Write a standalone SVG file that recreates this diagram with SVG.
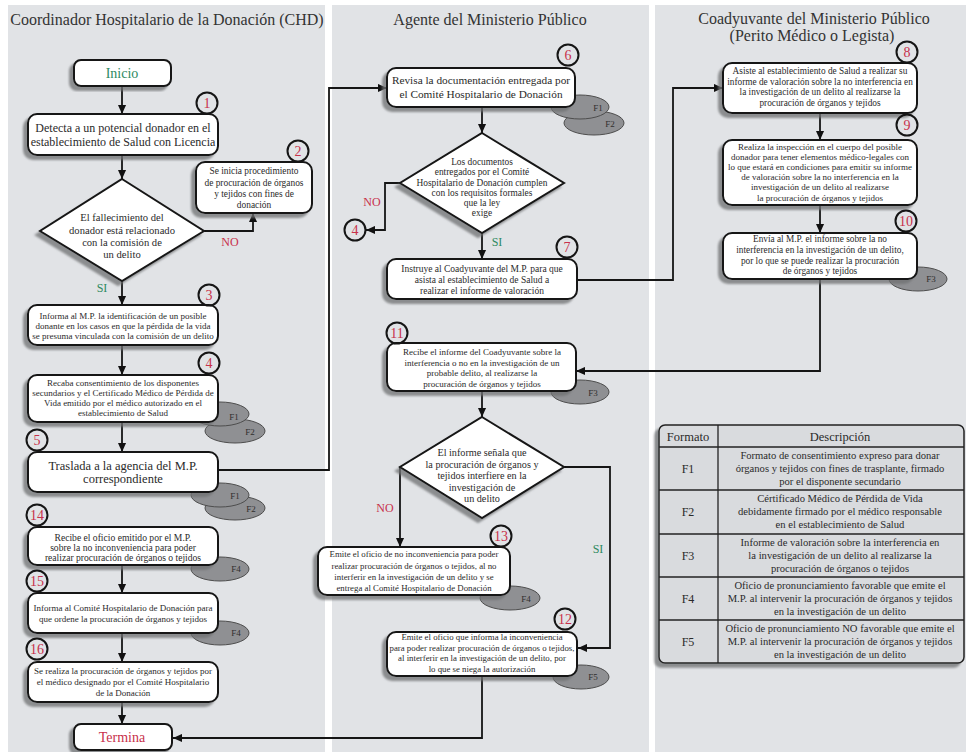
<svg xmlns="http://www.w3.org/2000/svg" width="966" height="752" viewBox="0 0 966 752">
<defs>
<filter id="sh" x="-10%" y="-10%" width="120%" height="130%">
<feDropShadow dx="-4" dy="4" stdDeviation="1.2" flood-color="#6e6f72" flood-opacity="0.75"/>
</filter>
<marker id="arr" viewBox="0 0 10 10" refX="10" refY="5" markerWidth="9" markerHeight="9" markerUnits="userSpaceOnUse" orient="auto">
<path d="M0,0.5 L10,5 L0,9.5 z" fill="#111"/>
</marker>
<style>
.lane{fill:#e1e3e6}
.box{fill:#fff;stroke:#151515;stroke-width:2;filter:url(#sh)}
.t{font-family:"Liberation Serif","Times New Roman",serif;fill:#2a2a2a;text-anchor:middle}
.title{font-size:16px;fill:#333}
.badge{fill:none;stroke:#151515;stroke-width:2}
.num{font-family:"Liberation Serif",serif;font-size:14px;fill:#c8314b;text-anchor:middle}
.fe{fill:#8f9093;stroke:#4d4d4d;stroke-width:1}
.fl{font-family:"Liberation Serif",serif;font-size:9px;fill:#2f2f2f;text-anchor:middle}
.conn{fill:none;stroke:#151515;stroke-width:1.8;marker-end:url(#arr)}
.no{font-family:"Liberation Serif",serif;font-size:12px;fill:#c8314b;text-anchor:middle}
.si{font-family:"Liberation Serif",serif;font-size:12px;fill:#2e8a62;text-anchor:middle}
.tb{font-family:"Liberation Serif",serif;fill:#2a2a2a;text-anchor:middle}
</style>
</defs>
<rect width="966" height="752" fill="#fff"/>
<g id="lanes">
<rect class="lane" x="8" y="5" width="317" height="747"/>
<rect class="lane" x="332" y="5" width="317" height="747"/>
<rect class="lane" x="655" y="5" width="311" height="747"/>
<text class="t title" x="167" y="25">Coordinador Hospitalario de la Donación (CHD)</text>
<text class="t title" x="490" y="25">Agente del Ministerio Público</text>
<text class="t title" x="814" y="24">Coadyuvante del Ministerio Público</text>
<text class="t title" x="812" y="41">(Perito Médico o Legista)</text>
</g>

<g id="connectors">
<path class="conn" d="M122,86 V114"/>
<path class="conn" d="M122,155 V179"/>
<path class="conn" d="M204,231 H253 V213"/>
<path class="conn" d="M122,281 V305"/>
<path class="conn" d="M122,345 V375"/>
<path class="conn" d="M122,422 V452"/>
<path class="conn" d="M218,470 H329 V88 H387"/>
<path class="conn" d="M482,107 V133"/>
<path class="conn" d="M400,183 H385 V230 H366"/>
<path class="conn" d="M482,233 V259"/>
<path class="conn" d="M577,280 H673 V88 H723"/>
<path class="conn" d="M820,113 V140"/>
<path class="conn" d="M820,205 V233"/>
<path class="conn" d="M820,279 V371 H576"/>
<path class="conn" d="M482,391 V417"/>
<path class="conn" d="M400,467 V547"/>
<path class="conn" d="M564,467 H610 V648 H578"/>
<path class="conn" d="M482,676 V738 H173"/>
<path class="conn" d="M122,565 V593"/>
<path class="conn" d="M122,633 V662"/>
<path class="conn" d="M122,702 V724"/>
<text class="no" x="230" y="246">NO</text>
<text class="si" x="102" y="292">SI</text>
<text class="no" x="372" y="206">NO</text>
<text class="si" x="497" y="246">SI</text>
<text class="no" x="385" y="512">NO</text>
<text class="si" x="598" y="553">SI</text>
</g>

<g id="inicio">
<rect class="box" x="74" y="60" width="97" height="26" rx="7"/>
<text class="t" x="122" y="78" font-size="14" fill="#2e8a62" style="fill:#2e8a62">Inicio</text>
</g>

<g id="n1">
<rect class="box" x="28" y="114" width="190" height="41" rx="9"/>
<text class="t" x="123" y="132" font-size="12">Detecta a un potencial donador en el</text>
<text class="t" x="123" y="146" font-size="12">establecimiento de Salud con Licencia</text>
<circle class="badge" cx="207" cy="103" r="10.5"/>
<text class="num" x="207" y="108">1</text>
</g>

<g id="n2">
<rect class="box" x="196" y="162" width="116" height="51" rx="9"/>
<g class="t" font-size="9.4">
<text x="254" y="174">Se inicia procedimiento</text>
<text x="254" y="186">de procuración de órganos</text>
<text x="254" y="197">y tejidos con fines de</text>
<text x="254" y="208">donación</text>
</g>
<circle class="badge" cx="298" cy="151" r="10.5"/>
<text class="num" x="298" y="156">2</text>
</g>

<g id="d1">
<polygon class="box" points="122,179 204,231 122,281 40,231"/>
<g class="t" font-size="10.6">
<text x="122" y="221">El fallecimiento del</text>
<text x="122" y="234">donador está relacionado</text>
<text x="122" y="246">con la comisión de</text>
<text x="122" y="258">un delito</text>
</g>
</g>

<g id="n3">
<rect class="box" x="28" y="305" width="190" height="40" rx="9"/>
<g class="t" font-size="9">
<text x="123" y="319">Informa al M.P. la identificación de un posible</text>
<text x="123" y="329">donante en los casos en que la pérdida de la vida</text>
<text x="123" y="339">se presuma vinculada con la comisión de un delito</text>
</g>
<circle class="badge" cx="209" cy="295" r="10.5"/>
<text class="num" x="209" y="300">3</text>
</g>

<g id="n4">
<ellipse class="fe" cx="235" cy="431" rx="30" ry="12"/>
<ellipse class="fe" cx="220" cy="414" rx="29" ry="12"/>
<text class="fl" x="234" y="420">F1</text>
<text class="fl" x="250" y="435">F2</text>
<rect class="box" x="28" y="375" width="190" height="47" rx="9"/>
<g class="t" font-size="9">
<text x="123" y="386">Recaba consentimiento de los disponentes</text>
<text x="123" y="396">secundarios y el Certificado Médico de Pérdida de</text>
<text x="123" y="406">Vida emitido por el médico autorizado en el</text>
<text x="123" y="416">establecimiento de Salud</text>
</g>
<circle class="badge" cx="209" cy="363" r="10.5"/>
<text class="num" x="209" y="368">4</text>
</g>

<g id="n5">
<ellipse class="fe" cx="235" cy="508" rx="30" ry="12"/>
<ellipse class="fe" cx="220" cy="495" rx="29" ry="12"/>
<text class="fl" x="235" y="499">F1</text>
<text class="fl" x="251" y="512">F2</text>
<rect class="box" x="28" y="452" width="190" height="40" rx="9"/>
<text class="t" x="123" y="470" font-size="12.5">Traslada a la agencia del M.P.</text>
<text class="t" x="123" y="483" font-size="12.5">correspondiente</text>
<circle class="badge" cx="37" cy="440" r="10.5"/>
<text class="num" x="37" y="445">5</text>
</g>

<g id="n14">
<ellipse class="fe" cx="220" cy="569" rx="29" ry="12"/>
<text class="fl" x="236" y="572">F4</text>
<rect class="box" x="28" y="527" width="190" height="38" rx="9"/>
<g class="t" font-size="9.6">
<text x="123" y="541">Recibe el oficio emitido por el M.P.</text>
<text x="123" y="551">sobre la no inconveniencia para poder</text>
<text x="123" y="561">realizar procuración de órganos o tejidos</text>
</g>
<circle class="badge" cx="37" cy="515" r="10.5"/>
<text class="num" x="37" y="520">14</text>
</g>

<g id="n15">
<ellipse class="fe" cx="220" cy="633" rx="29" ry="12"/>
<text class="fl" x="236" y="636">F4</text>
<rect class="box" x="28" y="593" width="190" height="40" rx="9"/>
<g class="t" font-size="9">
<text x="123" y="611">Informa al Comité Hospitalario de Donación para</text>
<text x="123" y="622">que ordene la procuración de órganos y tejidos</text>
</g>
<circle class="badge" cx="37" cy="581" r="10.5"/>
<text class="num" x="37" y="586">15</text>
</g>

<g id="n16">
<rect class="box" x="28" y="662" width="190" height="40" rx="9"/>
<g class="t" font-size="9">
<text x="123" y="674">Se realiza la procuración de órganos y tejidos por</text>
<text x="123" y="685">el médico designado por el Comité Hospitalario</text>
<text x="123" y="696">de la Donación</text>
</g>
<circle class="badge" cx="37" cy="649" r="10.5"/>
<text class="num" x="37" y="654">16</text>
</g>

<g id="termina">
<rect class="box" x="74" y="724" width="98" height="26" rx="7"/>
<text class="t" x="122" y="742" font-size="14" style="fill:#c8314b">Termina</text>
</g>

<g id="n6">
<ellipse class="fe" cx="594" cy="123" rx="30" ry="12"/>
<ellipse class="fe" cx="580" cy="107" rx="29" ry="12"/>
<text class="fl" x="598" y="111">F1</text>
<text class="fl" x="610" y="127">F2</text>
<rect class="box" x="387" y="68" width="188" height="39" rx="9"/>
<text class="t" x="481" y="84" font-size="11.3">Revisa la documentación entregada por</text>
<text class="t" x="481" y="98" font-size="11.3">el Comité Hospitalario de Donación</text>
<circle class="badge" cx="568" cy="55" r="10.5"/>
<text class="num" x="568" y="60">6</text>
</g>

<g id="d2">
<polygon class="box" points="482,133 564,183 482,233 400,183"/>
<g class="t" font-size="9.4">
<text x="482" y="165">Los documentos</text>
<text x="482" y="175">entregados por el Comité</text>
<text x="482" y="186">Hospitalario de Donación cumplen</text>
<text x="482" y="196">con los requisitos formales</text>
<text x="482" y="206">que la ley</text>
<text x="482" y="216">exige</text>
</g>
</g>

<g id="ref4">
<circle class="badge" cx="355" cy="230" r="10.5"/>
<text class="num" x="355" y="235">4</text>
</g>

<g id="n7">
<rect class="box" x="387" y="259" width="190" height="40" rx="9"/>
<g class="t" font-size="9.5">
<text x="482" y="272">Instruye al Coadyuvante del M.P. para que</text>
<text x="482" y="283">asista al establecimiento de Salud a</text>
<text x="482" y="294">realizar el informe de valoración</text>
</g>
<circle class="badge" cx="567" cy="247" r="10.5"/>
<text class="num" x="567" y="252">7</text>
</g>

<g id="n11">
<ellipse class="fe" cx="580" cy="392" rx="29" ry="12"/>
<text class="fl" x="593" y="396">F3</text>
<rect class="box" x="387" y="343" width="189" height="48" rx="9"/>
<g class="t" font-size="9">
<text x="482" y="355">Recibe el informe del Coadyuvante sobre la</text>
<text x="482" y="366">interferencia o no en la investigación de un</text>
<text x="482" y="376">probable delito, al realizarse la</text>
<text x="482" y="387">procuración de órganos y tejidos</text>
</g>
<circle class="badge" cx="397" cy="333" r="10.5"/>
<text class="num" x="397" y="338">11</text>
</g>

<g id="d3">
<polygon class="box" points="482,417 564,467 482,518 400,467"/>
<g class="t" font-size="10.2">
<text x="482" y="456">El informe señala que</text>
<text x="482" y="468">la procuración de órganos y</text>
<text x="482" y="479">tejidos interfiere en la</text>
<text x="482" y="491">investigación de</text>
<text x="482" y="502">un delito</text>
</g>
</g>

<g id="n13">
<ellipse class="fe" cx="510" cy="598" rx="30" ry="12"/>
<text class="fl" x="526" y="602">F4</text>
<rect class="box" x="318" y="547" width="192" height="48" rx="9"/>
<g class="t" font-size="8.8">
<text x="414" y="557">Emite el oficio de no inconveniencia para poder</text>
<text x="414" y="569">realizar procuración de órganos o tejidos, al no</text>
<text x="414" y="580">interferir en la investigación de un delito y se</text>
<text x="414" y="591">entrega al Comité Hospitalario de Donación</text>
</g>
<circle class="badge" cx="501" cy="536" r="10.5"/>
<text class="num" x="501" y="541">13</text>
</g>

<g id="n12">
<ellipse class="fe" cx="581" cy="677" rx="28" ry="12"/>
<text class="fl" x="593" y="680">F5</text>
<rect class="box" x="387" y="632" width="190" height="44" rx="9"/>
<g class="t" font-size="8.8">
<text x="482" y="640">Emite el oficio que informa la inconveniencia</text>
<text x="482" y="651">para poder realizar procuración de órganos o tejidos,</text>
<text x="482" y="661">al interferir en la investigación de un delito, por</text>
<text x="482" y="672">lo que se niega la autorización</text>
</g>
<circle class="badge" cx="565" cy="619" r="10.5"/>
<text class="num" x="565" y="624">12</text>
</g>

<g id="n8">
<rect class="box" x="723" y="63" width="194" height="50" rx="9"/>
<g class="t" font-size="9.3">
<text x="820" y="74">Asiste al establecimiento de Salud a realizar su</text>
<text x="820" y="85">informe de valoración sobre la no interferencia en</text>
<text x="820" y="95">la investigación de un delito al realizarse la</text>
<text x="820" y="106">procuración de órganos y tejidos</text>
</g>
<circle class="badge" cx="907" cy="52" r="10.5"/>
<text class="num" x="907" y="57">8</text>
</g>

<g id="n9">
<rect class="box" x="723" y="140" width="194" height="65" rx="9"/>
<g class="t" font-size="9">
<text x="820" y="150">Realiza la inspección en el cuerpo del posible</text>
<text x="820" y="160">donador para tener elementos médico-legales con</text>
<text x="820" y="170">lo que estará en condiciones para emitir su informe</text>
<text x="820" y="180">de valoración sobre la no interferencia en la</text>
<text x="820" y="190">investigación de un delito al realizarse</text>
<text x="820" y="201">la procuración de órganos y tejidos</text>
</g>
<circle class="badge" cx="907" cy="125" r="10.5"/>
<text class="num" x="907" y="130">9</text>
</g>

<g id="n10">
<ellipse class="fe" cx="918" cy="279" rx="29" ry="12"/>
<text class="fl" x="931" y="282">F3</text>
<rect class="box" x="723" y="233" width="194" height="46" rx="9"/>
<g class="t" font-size="9.3">
<text x="820" y="242">Envía al M.P. el informe sobre la no</text>
<text x="820" y="253">interferencia en la investigación de un delito,</text>
<text x="820" y="264">por lo que se puede realizar la procuración</text>
<text x="820" y="274">de órganos y tejidos</text>
</g>
<circle class="badge" cx="906" cy="221" r="10.5"/>
<text class="num" x="906" y="226">10</text>
</g>

<g id="tabla">
<rect x="659" y="425" width="305" height="238" rx="6" fill="#d9dbde" stroke="#222" stroke-width="1.5" filter="url(#sh)"/>
<g stroke="#222" stroke-width="1.3">
<line x1="659" y1="447" x2="964" y2="447"/>
<line x1="659" y1="490" x2="964" y2="490"/>
<line x1="659" y1="534" x2="964" y2="534"/>
<line x1="659" y1="577" x2="964" y2="577"/>
<line x1="659" y1="620" x2="964" y2="620"/>
<line x1="718" y1="425" x2="718" y2="663"/>
</g>
<text class="tb" x="688" y="441" font-size="12.5">Formato</text>
<text class="tb" x="840" y="441" font-size="12.5">Descripción</text>
<g class="tb" font-size="12">
<text x="688" y="473">F1</text>
<text x="688" y="516">F2</text>
<text x="688" y="560">F3</text>
<text x="688" y="603">F4</text>
<text x="688" y="646">F5</text>
</g>
<g class="tb" font-size="10.6">
<text x="840" y="459">Formato de consentimiento expreso para donar</text>
<text x="840" y="472">órganos y tejidos con fines de trasplante, firmado</text>
<text x="840" y="485">por el disponente secundario</text>
<text x="840" y="502">Cértificado Médico de Pérdida de Vida</text>
<text x="840" y="515">debidamente firmado por el médico responsable</text>
<text x="840" y="528">en el establecimiento de Salud</text>
<text x="840" y="546">Informe de valoración sobre la interferencia en</text>
<text x="840" y="559">la investigación de un delito al realizarse la</text>
<text x="840" y="572">procuración de órganos o tejidos</text>
<text x="840" y="589">Oficio de pronunciamiento favorable que emite el</text>
<text x="840" y="602">M.P. al intervenir la procuración de órganos y tejidos</text>
<text x="840" y="615">en la investigación de un delito</text>
<text x="840" y="632">Oficio de pronunciamiento NO favorable que emite el</text>
<text x="840" y="645">M.P. al intervenir la procuración de órganos y tejidos</text>
<text x="840" y="658">en la investigación de un delito</text>
</g>
</g>
</svg>
